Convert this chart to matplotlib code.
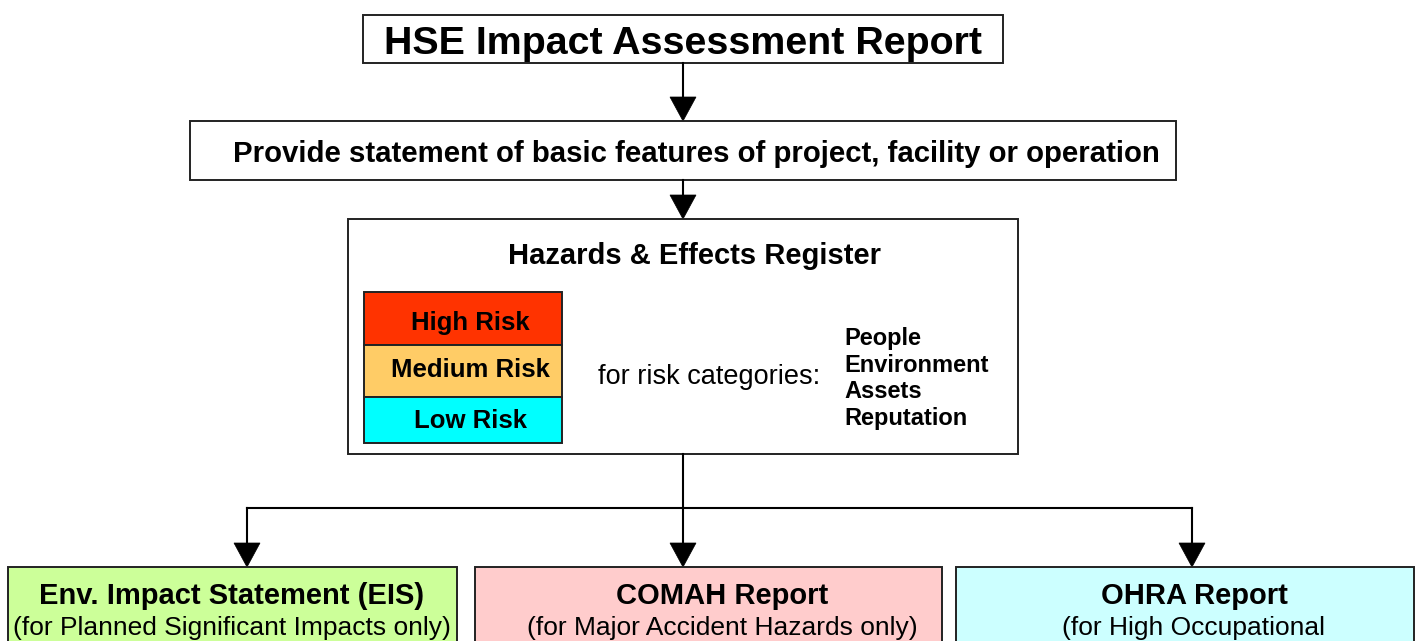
import matplotlib.pyplot as plt
from matplotlib.patches import Rectangle, Polygon

plt.rcParams['font.family'] = ['Liberation Sans', 'DejaVu Sans']

# texts of the chart
title = "HSE Impact Assessment Report"
statement = "Provide statement of basic features of project, facility or operation"
register = "Hazards & Effects Register"
risk_levels = ["High Risk", "Medium Risk", "Low Risk"]
risk_colors = ["#ff3300", "#ffcc66", "#00ffff"]
risk_note = "for risk categories:"
risk_categories = ["People", "Environment", "Assets", "Reputation"]
report_titles = ["Env. Impact Statement (EIS)", "COMAH Report", "OHRA Report"]
report_notes = ["(for Planned Significant Impacts only)",
                "(for Major Accident Hazards only)",
                "(for High Occupational"]
report_colors = ["#ccff99", "#ffcccc", "#ccffff"]

# layout in pixel units (x right, y down)
W, H = 1419, 641
fig = plt.figure(figsize=(W / 100, H / 100), dpi=100)
ax = fig.add_axes([0, 0, 1, 1])
ax.set_xlim(0, W)
ax.set_ylim(H, 0)
ax.axis('off')

edge = '#222222'


def box(x0, y0, x1, y1, fc='white', lw=1.4):
    ax.add_patch(Rectangle((x0, y0), x1 - x0, y1 - y0, fc=fc, ec=edge, lw=lw))


def arrow(x, y0, y1):
    ax.plot([x, x], [y0, y1 - 20], color='black', lw=1.5)
    ax.add_patch(Polygon([(x - 13, y1 - 24), (x + 13, y1 - 24), (x, y1)],
                         closed=True, fc='black', ec='black', lw=0.5))


def label(x, y, s, size, bold=False, ha='center'):
    ax.text(x, y, s, ha=ha, va='baseline', fontsize=size,
            fontweight='bold' if bold else 'normal')


# title box
box(363, 15, 1003, 63)
label(683, 54, title, 28.4, bold=True)
arrow(683, 63, 121)

# statement box
box(190, 121, 1176, 180)
label(696, 162, statement, 21.2, bold=True)
arrow(683, 180, 219)

# register box
box(348, 219, 1018, 454)
label(694, 264, register, 21, bold=True)

risk_y = [292, 345, 397, 443]
risk_base = [330, 377, 428]
for i, (lab, col) in enumerate(zip(risk_levels, risk_colors)):
    box(364, risk_y[i], 562, risk_y[i + 1], fc=col)
    label(470, risk_base[i], lab, 18.5, bold=True)

label(598, 384, risk_note, 19.5, ha='left')
for i, cat in enumerate(risk_categories):
    label(844, 345 + i * 26.7, cat, 17, bold=True, ha='left')

# branches to reports
ax.plot([683, 683], [454, 508], color='black', lw=1.5)
ax.plot([247, 1192], [508, 508], color='black', lw=1.5)
report_x = [(8, 457), (475, 942), (956, 1414)]
text_x = [232, 722, 1194]
arrow_x = [247, 683, 1192]
for xa in arrow_x:
    arrow(xa, 508, 567)

for (x0, x1), xc, t, n, c in zip(report_x, text_x, report_titles, report_notes, report_colors):
    box(x0, 567, x1, 660, fc=c)
    label(xc, 604, t, 21, bold=True)
    label(xc, 635, n, 19)

fig.savefig('out.png', dpi=100)
